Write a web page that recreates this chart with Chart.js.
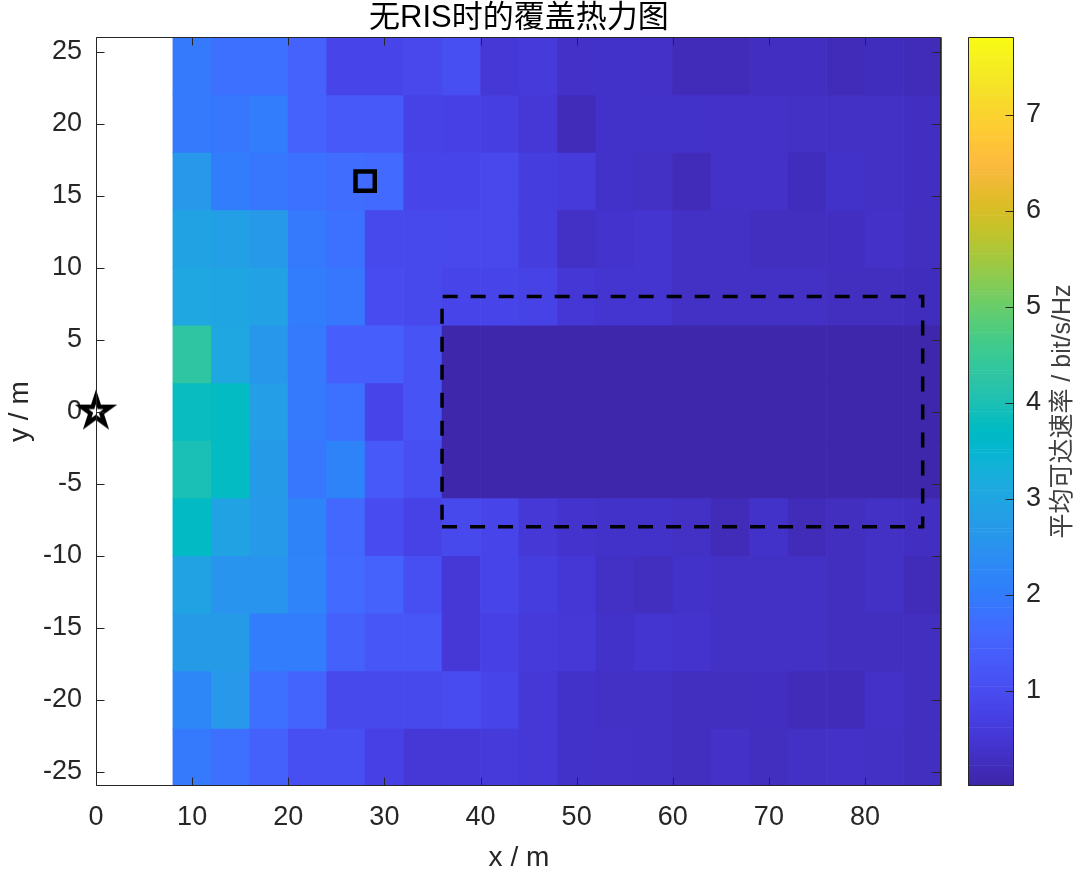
<!DOCTYPE html>
<html>
<head>
<meta charset="utf-8">
<script src="https://cdn.jsdelivr.net/npm/chart.js@4/dist/chart.umd.min.js"></script>
<style>
html,body{margin:0;padding:0;background:#fff;width:1080px;height:872px;overflow:hidden;}
#main{position:absolute;left:0;top:0;}
#cbar{position:absolute;left:940px;top:0;}
</style>
</head>
<body>
<canvas id="main" width="960" height="872"></canvas>
<canvas id="cbar" width="140" height="872"></canvas>
<script>
// ---------------- data ----------------
const chartTitle = '无RIS时的覆盖热力图';
const xLabel = 'x / m';
const yLabel = 'y / m';
const cbLabel = '平均可达速率 / bit/s/Hz';

const xCenters = [10,14,18,22,26,30,34,38,42,46,50,54,58,62,66,70,74,78,82,86];
const yCenters = [24,20,16,12,8,4,0,-4,-8,-12,-16,-20,-24];
const cellSize = 4;

// average achievable rate (bit/s/Hz), rows top (y=24) to bottom (y=-24)
const rate = [
  [1.95,1.75,1.75,1.50,0.85,0.85,0.90,1.05,0.55,0.60,0.35,0.38,0.35,0.20,0.20,0.30,0.30,0.20,0.25,0.22],
  [1.95,1.90,2.05,1.50,1.30,1.30,0.80,0.75,0.70,0.55,0.22,0.38,0.40,0.38,0.36,0.36,0.32,0.32,0.34,0.30],
  [2.65,2.05,1.90,1.80,1.70,1.65,0.85,0.85,0.90,0.65,0.60,0.38,0.32,0.22,0.36,0.36,0.24,0.40,0.32,0.30],
  [2.95,2.85,2.70,1.95,1.80,0.95,0.95,0.90,0.90,0.65,0.33,0.42,0.45,0.32,0.32,0.26,0.26,0.30,0.35,0.26],
  [3.05,3.00,2.90,2.05,1.90,1.00,0.95,0.85,0.85,0.80,0.50,0.45,0.45,0.33,0.33,0.32,0.32,0.28,0.28,0.24],
  [4.30,3.05,2.60,1.95,1.40,1.40,1.15,0.06,0.06,0.06,0.06,0.06,0.06,0.06,0.06,0.06,0.06,0.06,0.06,0.06],
  [3.80,3.75,2.80,1.95,1.80,0.85,1.15,0.06,0.06,0.06,0.06,0.06,0.06,0.06,0.06,0.06,0.06,0.06,0.06,0.06],
  [4.00,3.75,2.75,1.90,2.15,1.30,1.05,0.06,0.06,0.06,0.06,0.06,0.06,0.06,0.06,0.06,0.06,0.06,0.06,0.06],
  [3.70,2.95,2.70,2.15,1.60,1.00,0.80,0.95,0.85,0.55,0.42,0.40,0.40,0.33,0.22,0.38,0.22,0.26,0.32,0.30],
  [2.95,2.55,2.55,2.20,1.65,1.50,1.05,0.55,0.85,0.65,0.50,0.33,0.28,0.38,0.32,0.32,0.32,0.28,0.32,0.22],
  [2.75,2.75,2.05,2.05,1.45,1.25,1.20,0.55,0.75,0.60,0.55,0.38,0.45,0.42,0.33,0.33,0.32,0.28,0.28,0.26],
  [2.25,2.65,1.75,1.55,0.95,0.95,0.95,1.00,0.85,0.55,0.38,0.32,0.32,0.26,0.26,0.30,0.22,0.22,0.35,0.26],
  [1.95,1.75,1.45,1.05,1.05,0.75,0.55,0.55,0.60,0.55,0.40,0.36,0.32,0.28,0.36,0.26,0.32,0.36,0.32,0.26]
];

const xTicks = [0,10,20,30,40,50,60,70,80];
const yTicks = [-25,-20,-15,-10,-5,0,5,10,15,20,25];
const cbTicks = [1,2,3,4,5,6,7];
const xRange = [0, 88];
const yRange = [-26, 26];
const cMin = 0.01, cMax = 7.81;

const bsX = [0], bsY = [0];          // base station (star)
const risX = [28], risY = [16];      // RIS (square)
const zoneX = [36, 86, 86, 36, 36];  // dashed zone
const zoneY = [-8, -8, 8, 8, -8];

// ---------------- colormap (parula) ----------------
const parula64 = [
[0.2422,0.1504,0.6603],[0.2504,0.1650,0.7076],[0.2578,0.1818,0.7511],[0.2647,0.1978,0.7952],
[0.2706,0.2147,0.8364],[0.2751,0.2342,0.8710],[0.2783,0.2559,0.8991],[0.2803,0.2782,0.9221],
[0.2813,0.3006,0.9414],[0.2810,0.3228,0.9579],[0.2795,0.3447,0.9717],[0.2760,0.3667,0.9829],
[0.2699,0.3892,0.9906],[0.2602,0.4123,0.9952],[0.2440,0.4358,0.9988],[0.2206,0.4603,0.9973],
[0.1963,0.4847,0.9892],[0.1834,0.5074,0.9798],[0.1786,0.5289,0.9682],[0.1764,0.5499,0.9520],
[0.1687,0.5703,0.9359],[0.1540,0.5902,0.9218],[0.1460,0.6091,0.9079],[0.1380,0.6276,0.8973],
[0.1248,0.6459,0.8883],[0.1113,0.6635,0.8763],[0.0952,0.6798,0.8598],[0.0689,0.6948,0.8394],
[0.0297,0.7082,0.8163],[0.0036,0.7203,0.7917],[0.0067,0.7312,0.7660],[0.0433,0.7411,0.7394],
[0.0964,0.7500,0.7120],[0.1408,0.7584,0.6842],[0.1717,0.7670,0.6554],[0.1938,0.7758,0.6251],
[0.2161,0.7843,0.5923],[0.2470,0.7918,0.5567],[0.2906,0.7973,0.5188],[0.3406,0.8008,0.4789],
[0.3909,0.8029,0.4354],[0.4456,0.8024,0.3909],[0.5044,0.7993,0.3480],[0.5616,0.7942,0.3045],
[0.6174,0.7876,0.2612],[0.6720,0.7793,0.2227],[0.7242,0.7698,0.1910],[0.7738,0.7598,0.1646],
[0.8203,0.7498,0.1535],[0.8634,0.7406,0.1596],[0.9035,0.7330,0.1774],[0.9393,0.7288,0.2100],
[0.9728,0.7298,0.2394],[0.9956,0.7434,0.2371],[0.9970,0.7659,0.2199],[0.9952,0.7893,0.2028],
[0.9892,0.8136,0.1885],[0.9786,0.8386,0.1766],[0.9676,0.8639,0.1643],[0.9610,0.8890,0.1537],
[0.9597,0.9135,0.1423],[0.9628,0.9373,0.1265],[0.9691,0.9606,0.1064],[0.9769,0.9839,0.0805]
];
const CMAP_N = 256;
const cmapCss = [];
for (let i = 0; i < CMAP_N; i++) {
  const t = i / (CMAP_N - 1) * (parula64.length - 1);
  const k = Math.min(parula64.length - 2, Math.floor(t));
  const f = t - k;
  const c = parula64[k].map((v, j) => Math.round((v + (parula64[k + 1][j] - v) * f) * 255));
  cmapCss.push('rgb(' + c.join(',') + ')');
}
function colorFor(v) {
  let k = Math.floor((v - cMin) / (cMax - cMin) * CMAP_N);
  k = Math.max(0, Math.min(CMAP_N - 1, k));
  return cmapCss[k];
}

// ---------------- style ----------------
const FONT = "'Liberation Sans', 'Noto Sans CJK SC', Arial, sans-serif";
const AX = '#262626';
const TICK_LEN = 8;
const PLOT_RIGHT = 944.7;

function pentagram(R, lw) {
  const s = Math.ceil(2 * (R + lw * 2.2));
  const c = document.createElement('canvas');
  c.width = s; c.height = s;
  const g = c.getContext('2d');
  const cx = s / 2, cy = s / 2;
  g.beginPath();
  for (let i = 0; i < 10; i++) {
    const a = -Math.PI / 2 + i * Math.PI / 5;
    const r = i % 2 === 0 ? R : R * 0.382;
    const px = cx + r * Math.cos(a), py = cy + r * Math.sin(a);
    if (i === 0) g.moveTo(px, py); else g.lineTo(px, py);
  }
  g.closePath();
  g.fillStyle = '#fff';
  g.fill();
  g.lineJoin = 'miter';
  g.miterLimit = 10;
  g.lineWidth = lw;
  g.strokeStyle = '#000';
  g.stroke();
  return c;
}

// ---------------- main chart ----------------
const heatSets = rate.map((row, r) => ({
  type: 'bar',
  data: row.map((v, c) => ({ x: xCenters[c], y: [yCenters[r] - cellSize / 2, yCenters[r] + cellSize / 2] })),
  backgroundColor: row.map(colorFor),
  borderWidth: 0,
  grouped: false,
  barPercentage: 1,
  categoryPercentage: 1,
  order: 10
}));

const markerSets = [
  {
    type: 'scatter',
    data: bsX.map((x, i) => ({ x, y: bsY[i] })),
    pointStyle: pentagram(15, 4.5),
    pointRadius: 10,
    clip: false,
    order: 1
  },
  {
    type: 'scatter',
    data: risX.map((x, i) => ({ x, y: risY[i] })),
    pointStyle: 'rect',
    pointRadius: 13.6,
    borderWidth: 4.5,
    borderColor: '#000',
    backgroundColor: 'rgba(0,0,0,0)',
    order: 1
  },
  {
    type: 'scatter',
    data: zoneX.map((x, i) => ({ x, y: zoneY[i] })),
    showLine: true,
    borderColor: '#000',
    borderWidth: 3.5,
    borderDash: [15, 13],
    pointRadius: 0,
    tension: 0,
    order: 2
  }
];

const framePlugin = {
  id: 'frame',
  afterDatasetsDraw(chart) {
    const { ctx, chartArea: a, scales: { x, y } } = chart;
    ctx.save();
    ctx.strokeStyle = AX;
    ctx.lineWidth = 1;
    const L = Math.round(a.left) + 0.5, R = Math.floor(a.right) - 0.5;
    const T = Math.round(a.top) + 0.5, B = Math.round(a.bottom) - 0.5;
    ctx.beginPath();
    ctx.rect(L, T, R - L, B - T);
    xTicks.forEach(v => {
      const p = Math.round(x.getPixelForValue(v)) + 0.5;
      ctx.moveTo(p, B); ctx.lineTo(p, B - TICK_LEN);
      ctx.moveTo(p, T); ctx.lineTo(p, T + TICK_LEN);
    });
    yTicks.forEach(v => {
      const p = Math.round(y.getPixelForValue(v)) + 0.5;
      ctx.moveTo(L, p); ctx.lineTo(L + TICK_LEN, p);
      ctx.moveTo(R, p); ctx.lineTo(R - TICK_LEN, p);
    });
    ctx.stroke();
    ctx.restore();
  }
};

const mainChart = new Chart(document.getElementById('main'), {
  type: 'bar',
  data: { datasets: [...markerSets, ...heatSets] },
  options: {
    responsive: false,
    animation: false,
    devicePixelRatio: 1,
    events: [],
    layout: { padding: { left: 0, right: 960 - PLOT_RIGHT, top: 0, bottom: 0 } },
    plugins: {
      legend: { display: false },
      tooltip: { enabled: false },
      title: {
        display: true,
        text: chartTitle,
        color: '#000',
        fullSize: false,
        font: { family: FONT, size: 31, weight: 'normal', lineHeight: 1.2 },
        padding: { top: 0, bottom: 0 }
      }
    },
    scales: {
      x: {
        type: 'linear',
        min: xRange[0], max: xRange[1],
        offset: false,
        grid: { display: false, drawTicks: false },
        border: { display: false },
        ticks: { font: { family: FONT, size: 27 }, color: AX, padding: 15.8, maxRotation: 0, autoSkip: false, callback: v => String(v) },
        afterBuildTicks: s => { s.ticks = xTicks.map(v => ({ value: v })); },
        afterFit: s => { s.height = 86; },
        title: { display: true, text: xLabel, color: AX, font: { family: FONT, size: 28, lineHeight: 1 }, padding: { top: 0, bottom: 0 } }
      },
      y: {
        type: 'linear',
        min: yRange[0], max: yRange[1],
        grid: { display: false, drawTicks: false },
        border: { display: false },
        ticks: { font: { family: FONT, size: 27 }, color: AX, padding: 14, autoSkip: false, callback: v => String(v) },
        afterBuildTicks: s => { s.ticks = yTicks.map(v => ({ value: v })); },
        afterFit: s => { s.width = 96; },
        title: { display: true, text: yLabel, color: AX, font: { family: FONT, size: 28, lineHeight: 1.2 }, padding: { top: 3.2, bottom: 0 } }
      }
    }
  },
  plugins: [framePlugin]
});
// pin the plot's right edge to the reference position
for (let i = 0; i < 3; i++) {
  const diff = mainChart.chartArea.right - PLOT_RIGHT;
  if (Math.abs(diff) < 0.05) break;
  const p = mainChart.options.layout.padding;
  mainChart.options.layout.padding = { left: 0, right: (p.right || 0) + diff, top: 0, bottom: 0 };
  mainChart.update('none');
}

// ---------------- colorbar ----------------
const bandStep = (cMax - cMin) / CMAP_N;
const cbBands = cmapCss.map((c, k) => ({ x: 0, y: [cMin + k * bandStep, cMin + (k + 1) * bandStep] }));

const cbFramePlugin = {
  id: 'cbframe',
  afterDatasetsDraw(chart) {
    const { ctx, chartArea: a, scales: { y } } = chart;
    ctx.save();
    ctx.strokeStyle = AX;
    ctx.lineWidth = 1;
    const L = Math.round(a.left) + 0.5, R = Math.round(a.right) - 0.5;
    const T = Math.round(a.top) + 0.5, B = Math.round(a.bottom) - 0.5;
    ctx.beginPath();
    ctx.rect(L, T, R - L, B - T);
    cbTicks.forEach(v => {
      const p = Math.round(y.getPixelForValue(v)) + 0.5;
      ctx.moveTo(R, p); ctx.lineTo(R - TICK_LEN, p);
    });
    ctx.stroke();
    ctx.restore();
  },
  afterDraw(chart) {
    const { ctx, chartArea: a } = chart;
    ctx.save();
    ctx.translate(123, (a.top + a.bottom) / 2);
    ctx.rotate(-Math.PI / 2);
    ctx.font = '25px ' + FONT;
    ctx.fillStyle = '#404040';
    ctx.textAlign = 'center';
    ctx.textBaseline = 'middle';
    ctx.fillText(cbLabel, 0, 0);
    ctx.restore();
  }
};

new Chart(document.getElementById('cbar'), {
  type: 'bar',
  data: {
    datasets: [{
      data: cbBands,
      backgroundColor: cmapCss,
      borderWidth: 0,
      grouped: false,
      barPercentage: 1,
      categoryPercentage: 1
    }]
  },
  options: {
    responsive: false,
    animation: false,
    devicePixelRatio: 1,
    events: [],
    layout: { padding: { left: 28, top: 37, bottom: 86, right: 0 } },
    plugins: { legend: { display: false }, tooltip: { enabled: false } },
    scales: {
      x: {
        type: 'linear', display: false, min: -1, max: 1, offset: false,
        afterBuildTicks: s => { s.ticks = [{ value: -1 }, { value: 1 }]; }
      },
      y: {
        type: 'linear', position: 'right', min: cMin, max: cMax,
        grid: { display: false, drawTicks: false },
        border: { display: false },
        ticks: { font: { family: FONT, size: 27 }, color: AX, padding: 12, autoSkip: false, callback: v => String(v) },
        afterBuildTicks: s => { s.ticks = cbTicks.map(v => ({ value: v })); },
        afterFit: s => { s.width = 66; }
      }
    }
  },
  plugins: [cbFramePlugin]
});
</script>
</body>
</html>
